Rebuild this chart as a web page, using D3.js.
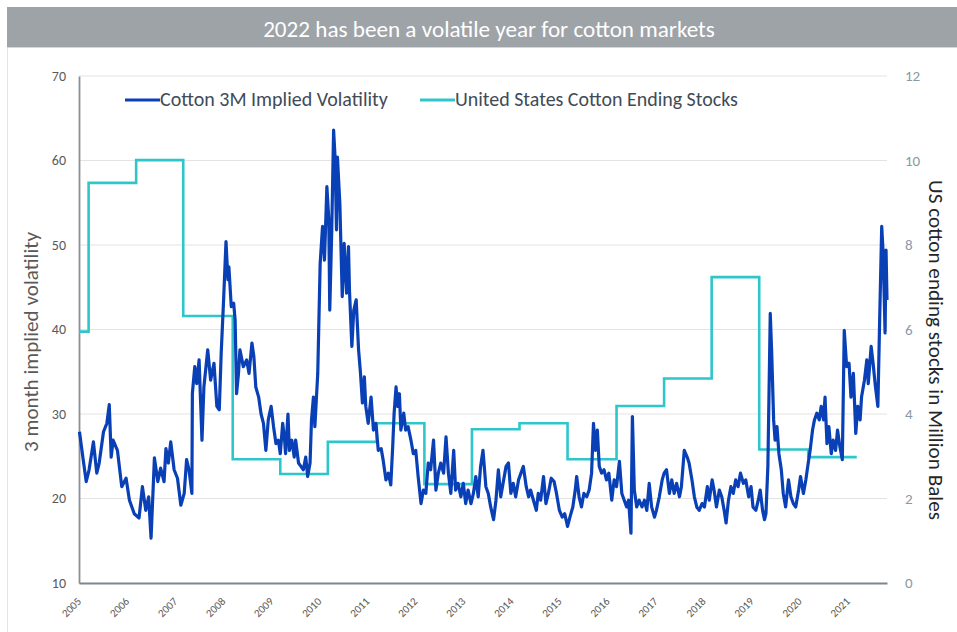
<!DOCTYPE html>
<html><head><meta charset="utf-8">
<script src="https://cdn.jsdelivr.net/npm/d3@7"></script>
<style>
html,body{margin:0;padding:0;background:#fff;}
svg{display:block;font-family:Carlito,Lato,"Open Sans",sans-serif;}
</style></head>
<body><svg id="chart" width="957" height="632"></svg>
<script>
const titleText = "2022 has been a volatile year for cotton markets";
const seriesNames = ["Cotton 3M Implied Volatility", "United States Cotton Ending Stocks"];
const leftAxisTitle = "3 month implied volatility";
const rightAxisTitle = "US cotton ending stocks in Million Bales";
const yearTicks = [2005,2006,2007,2008,2009,2010,2011,2012,2013,2014,2015,2016,2017,2018,2019,2020,2021];
const leftTicks = [10,20,30,40,50,60,70];
const rightTicks = [0,2,4,6,8,10,12];

const volDates = [2005.01,2005.08,2005.15,2005.21,2005.30,2005.37,2005.42,2005.51,2005.58,2005.63,2005.67,2005.71,2005.80,2005.89,2005.98,
2006.05,2006.15,2006.25,2006.32,2006.39,2006.45,2006.50,2006.57,2006.64,2006.70,2006.77,2006.81,2006.86,2006.91,2006.98,
2007.05,2007.12,2007.19,2007.24,2007.29,2007.35,2007.36,2007.41,2007.45,2007.50,2007.56,2007.60,2007.68,2007.74,2007.81,2007.87,2007.92,2007.96,
2008.01,2008.06,2008.10,2008.12,2008.17,2008.22,2008.25,2008.28,2008.32,2008.35,2008.42,2008.49,2008.54,2008.60,2008.64,2008.68,2008.74,2008.79,2008.84,2008.89,2008.94,
2009.00,2009.05,2009.10,2009.15,2009.19,2009.24,2009.28,2009.30,2009.35,2009.38,2009.43,2009.48,2009.51,2009.57,2009.62,2009.67,2009.72,2009.76,2009.81,2009.84,2009.88,2009.91,2009.97,
2010.02,2010.07,2010.11,2010.16,2010.20,2010.22,2010.26,2010.30,2010.33,2010.36,2010.38,2010.43,2010.48,2010.52,2010.57,2010.61,2010.63,2010.68,2010.72,2010.77,2010.82,2010.86,2010.90,2010.94,2010.97,
2011.02,2011.08,2011.13,2011.18,2011.23,2011.29,2011.33,2011.39,2011.44,2011.49,2011.53,2011.56,2011.60,2011.63,2011.67,2011.70,2011.76,2011.80,2011.85,2011.91,2011.96,
2012.01,2012.06,2012.12,2012.17,2012.22,2012.27,2012.32,2012.38,2012.43,2012.48,2012.53,2012.59,2012.64,2012.69,2012.74,2012.80,2012.84,2012.89,2012.95,
2013.00,2013.05,2013.10,2013.16,2013.21,2013.26,2013.31,2013.36,2013.41,2013.47,2013.52,2013.57,2013.63,2013.68,2013.73,2013.78,2013.84,2013.89,2013.94,2013.99,
2014.04,2014.09,2014.15,2014.20,2014.25,2014.31,2014.36,2014.40,2014.46,2014.52,2014.56,2014.61,2014.67,2014.72,2014.77,2014.83,2014.89,2014.94,
2015.00,2015.06,2015.11,2015.17,2015.22,2015.28,2015.33,2015.36,2015.41,2015.46,2015.51,2015.57,2015.62,2015.67,2015.71,2015.75,2015.79,2015.83,2015.88,2015.93,2015.98,
2016.03,2016.09,2016.14,2016.19,2016.25,2016.30,2016.35,2016.40,2016.44,2016.49,2016.52,2016.56,2016.61,2016.66,2016.72,2016.77,2016.82,2016.87,2016.92,2016.98,
2017.02,2017.08,2017.14,2017.18,2017.23,2017.29,2017.34,2017.39,2017.44,2017.50,2017.54,2017.60,2017.66,2017.70,2017.76,2017.81,2017.86,2017.91,2017.97,
2018.02,2018.08,2018.12,2018.18,2018.22,2018.27,2018.33,2018.38,2018.43,2018.47,2018.52,2018.57,2018.62,2018.67,2018.72,2018.77,2018.83,2018.88,2018.94,2018.99,
2019.03,2019.09,2019.14,2019.18,2019.23,2019.27,2019.30,2019.34,2019.39,2019.42,2019.46,2019.49,2019.53,2019.57,2019.62,2019.66,2019.71,2019.77,2019.82,2019.87,2019.92,2019.98,
2020.02,2020.08,2020.13,2020.17,2020.22,2020.27,2020.31,2020.36,2020.41,2020.45,2020.50,2020.53,2020.57,2020.61,2020.66,2020.70,2020.75,2020.79,2020.84,2020.89,2020.93,2020.98,
2021.03,2021.07,2021.12,2021.17,2021.21,2021.26,2021.29,2021.35,2021.40,2021.43,2021.49,2021.53,2021.58,2021.63,2021.67,2021.71,2021.74,2021.78,2021.80,2021.82];

const volValues = [27.9,24.9,22.0,23.4,26.7,23.0,24.2,27.9,28.9,31.1,24.9,26.9,25.7,21.4,22.4,
19.8,18.2,17.7,21.4,18.6,20.2,15.3,24.8,22.0,23.6,22.0,25.9,24.2,26.7,23.4,
22.4,19.2,20.6,24.6,23.4,20.6,32.4,35.6,33.6,36.4,26.9,33.2,37.6,34.0,36.0,30.9,30.5,37.2,
43.5,50.4,45.9,47.4,42.7,43.1,41.1,32.4,34.8,37.6,35.6,36.4,34.8,38.4,36.8,33.2,32.0,30.0,28.9,25.7,29.3,
30.9,28.5,26.5,26.9,25.3,28.9,26.9,25.3,30.0,25.7,26.9,24.9,26.9,24.2,23.8,23.4,24.9,22.6,24.2,29.3,32.0,28.5,34.8,
47.8,52.2,48.2,56.9,53.0,42.3,51.4,63.6,60.4,51.8,60.4,54.9,43.9,50.2,44.3,49.8,44.7,38.0,42.3,43.5,37.6,34.8,31.3,34.4,30.9,
28.9,32.0,28.1,28.9,25.7,25.9,24.6,22.2,23.0,21.6,26.1,30.1,33.2,30.9,32.4,28.1,30.1,28.1,28.5,26.9,25.3,
25.7,22.6,19.4,21.0,20.6,24.2,23.4,26.9,21.0,23.0,24.2,23.0,27.3,23.0,20.6,25.7,21.0,21.8,20.2,
21.8,19.4,21.0,19.4,20.6,22.6,20.2,23.8,25.7,21.4,20.6,19.0,17.5,19.8,23.4,20.2,22.2,23.8,24.2,20.6,
21.8,20.2,22.2,23.0,23.8,21.4,20.2,21.0,19.8,18.6,20.6,19.8,22.6,19.4,20.6,22.4,22.0,20.6,
18.6,17.8,18.2,16.7,17.8,19.0,21.0,22.6,20.2,19.0,20.6,20.2,21.0,23.0,28.9,25.7,28.1,23.8,23.0,23.4,22.2,
23.0,19.8,22.2,21.4,24.4,20.6,19.8,19.0,19.8,15.9,29.7,21.0,19.0,19.8,19.0,19.8,18.6,21.8,19.0,17.8,
18.6,20.2,22.2,23.0,23.4,20.6,22.2,20.6,21.8,20.2,21.4,25.7,24.9,24.2,22.2,20.2,19.0,18.6,19.4,
19.0,21.4,19.8,22.2,21.0,19.0,21.0,20.2,18.6,17.1,19.8,21.4,20.6,22.2,21.4,23.0,21.8,22.2,20.2,21.4,
19.0,18.6,19.8,21.0,18.6,17.5,18.2,23.8,41.9,37.2,29.3,26.9,28.5,25.3,23.4,20.6,19.0,22.2,20.2,19.4,19.0,21.0,
22.6,20.6,22.2,23.8,25.7,28.1,29.3,30.1,29.3,30.9,29.3,32.0,26.5,28.5,25.3,26.9,25.7,28.1,26.1,24.6,39.9,35.6,
36.0,32.0,34.8,27.7,30.9,29.3,32.0,34.0,36.4,33.6,38.0,36.0,33.2,30.9,41.9,52.2,49.0,39.6,49.4,43.5];

// step series: each value holds from its date until the next date (last entry closes the line)
const stockDates  = [2005.00,2005.20,2006.19,2007.17,2008.20,2009.19,2010.18,2011.20,2012.19,2013.18,2014.17,2015.17,2016.19,2017.18,2018.17,2019.16,2020.18,2021.19];
const stockValues = [5.95,9.47,10.01,6.32,2.93,2.58,3.34,3.78,2.34,3.64,3.78,2.93,4.19,4.84,7.24,3.16,2.98,2.98];

const W = 957, H = 632;
const m = {left: 79, right: 887, top: 76, bottom: 583};
const svg = d3.select("#chart");

const x = d3.scaleLinear().domain([2005, 2021.82]).range([m.left, m.right]);
const yL = d3.scaleLinear().domain([10, 70]).range([m.bottom, m.top]);
const yR = d3.scaleLinear().domain([0, 12]).range([m.bottom, m.top]);

// title bar
svg.append("rect").attr("x", 7).attr("y", 7).attr("width", W - 7).attr("height", 40).attr("fill", "#9ea3a8");
svg.append("line").attr("x1", 7).attr("x2", W).attr("y1", 47.5).attr("y2", 47.5).attr("stroke", "#d5d8db").attr("stroke-width", 1);
svg.append("line").attr("x1", 7.5).attr("x2", 7.5).attr("y1", 48).attr("y2", H).attr("stroke", "#e2e4e6").attr("stroke-width", 1);

function fit(sel, target) {
  const n = sel.node();
  const fs = parseFloat(sel.attr("font-size"));
  const w = n.getComputedTextLength();
  if (w > 0) sel.attr("font-size", (fs * target / w).toFixed(2));
}

const title = svg.append("text").attr("x", 489).attr("y", 37).attr("text-anchor", "middle")
  .attr("font-size", 20).attr("fill", "#ffffff").text(titleText);
fit(title, 452);

// gridlines
svg.append("g").selectAll("line").data(leftTicks.filter(d => d > 10)).join("line")
  .attr("x1", m.left).attr("x2", m.right)
  .attr("y1", d => yL(d)).attr("y2", d => yL(d))
  .attr("stroke", "#e3e3e3").attr("stroke-width", 1.2);

// left axis
const gL = svg.append("g").attr("transform", `translate(${m.left},0)`)
  .call(d3.axisLeft(yL).tickValues(leftTicks).tickSize(0).tickPadding(13));
gL.select(".domain").attr("stroke", "#8a9097").attr("stroke-width", 1.8);
gL.selectAll("text").attr("font-size", 14).attr("fill", "#595959").attr("font-family", "Carlito,Lato,sans-serif");

// right axis
const gR = svg.append("g").attr("transform", `translate(${m.right},0)`)
  .call(d3.axisRight(yR).tickValues(rightTicks).tickSize(0).tickPadding(18));
gR.select(".domain").remove();
gR.selectAll("text").attr("font-size", 15).attr("fill", "#8a98a5").attr("font-family", "Carlito,Lato,sans-serif");

// bottom axis (line only; labels drawn rotated below)
const gB = svg.append("g").attr("transform", `translate(0,${m.bottom})`)
  .call(d3.axisBottom(x).tickValues(yearTicks).tickSize(0).tickFormat(""));
gB.select(".domain").attr("stroke", "#7d858d").attr("stroke-width", 2);

svg.append("g").selectAll("g").data(yearTicks).join("g")
  .attr("transform", d => `translate(${x(d) + 3},${m.bottom + 19})`)
  .append("text")
  .attr("transform", "rotate(-45)")
  .attr("text-anchor", "end")
  .attr("font-size", 11).attr("fill", "#595959")
  .text(d => d);

// axis titles
const lt = svg.append("text").attr("transform", "translate(38,342) rotate(-90)").attr("text-anchor", "middle")
  .attr("font-size", 16).attr("fill", "#595959").text(leftAxisTitle);
fit(lt, 220);
const rt = svg.append("text").attr("transform", "translate(929,350) rotate(90)").attr("text-anchor", "middle")
  .attr("font-size", 16).attr("fill", "#262626").text(rightAxisTitle);
fit(rt, 340);

// lines
const stockLine = d3.line().x((d, i) => x(stockDates[i])).y(d => yR(d)).curve(d3.curveStepAfter);
svg.append("path").attr("d", stockLine(stockValues)).attr("fill", "none")
  .attr("stroke", "#2ec6cb").attr("stroke-width", 2.6);

const volLine = d3.line().x((d, i) => x(volDates[i])).y(d => yL(d));
svg.append("path").attr("d", volLine(volValues)).attr("fill", "none")
  .attr("stroke", "#0a40b6").attr("stroke-width", 3.2).attr("stroke-linejoin", "round");

// legend
const legend = [
  {name: seriesNames[0], color: "#0a40b6", x0: 125, x1: 160, w: 228},
  {name: seriesNames[1], color: "#2ec6cb", x0: 420, x1: 455, w: 283}
];
legend.forEach(l => {
  svg.append("line").attr("x1", l.x0).attr("x2", l.x1).attr("y1", 100).attr("y2", 100)
    .attr("stroke", l.color).attr("stroke-width", 3);
  const t = svg.append("text").attr("x", l.x1).attr("y", 106).attr("font-size", 17)
    .attr("fill", "#404b57").text(l.name);
  fit(t, l.w);
});
</script></body></html>
